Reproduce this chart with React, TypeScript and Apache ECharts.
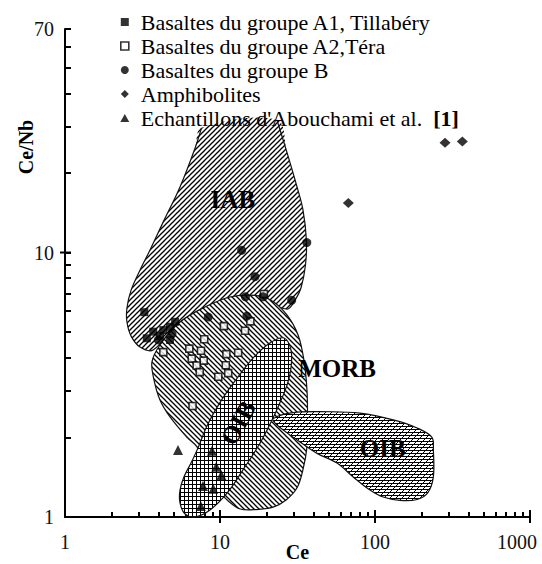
import React, { useEffect, useRef } from 'react';
import * as echarts from 'echarts';

const FONT = '"Liberation Serif", "Times New Roman", Times, serif';

// Legend / series names
const NAME_A1 = 'Basaltes du groupe A1, Tillabéry';
const NAME_A2 = 'Basaltes du groupe A2,Téra';
const NAME_B = 'Basaltes du groupe B';
const NAME_AMPH = 'Amphibolites';
const NAME_ABOU = "Echantillons d'Abouchami et al.";

// Data points [Ce, Ce/Nb]
const groupA1 = [
  [3.25, 5.95], [3.37, 4.74], [3.71, 5.02], [4.31, 5.09], [4.76, 5.24],
  [5.13, 5.47], [4.76, 4.67], [4.1, 4.84],
];
const groupA2 = [
  [4.31, 4.2], [6.34, 4.33], [7.54, 4.25], [6.57, 3.97], [7.85, 3.9],
  [7.07, 3.74], [7.4, 3.53], [7.91, 4.7], [10.6, 5.27], [11.0, 4.13],
  [13.1, 4.18], [10.9, 3.75], [11.3, 3.5], [9.75, 3.39], [6.65, 2.63],
  [14.5, 5.06], [15.7, 5.49], [19.2, 6.97],
];
const groupB = [
  [13.8, 10.2], [36.3, 10.9], [16.8, 8.1], [14.6, 6.8], [19.0, 6.8],
  [29.0, 6.6], [8.4, 5.7], [14.9, 5.75], [4.0, 4.67], [4.9, 4.92],
];
const amphibolites = [[283, 26.0], [366, 26.3], [67.3, 15.4]];
const abouchami = [
  [5.36, 1.79], [8.88, 1.78], [9.46, 1.55], [10.2, 1.44], [7.77, 1.31],
  [9.05, 1.28], [7.52, 1.1],
];

// Discrimination fields (outline vertices in data units)
const fieldIAB = [
  [23.3, 31.7], [27.1, 23.8], [31.4, 17.7], [34.3, 14.5], [36.1, 11.15],
  [35.6, 8.97], [33.3, 7.34], [30.5, 6.61], [27.1, 6.11], [18.1, 6.61],
  [10, 6.33], [5.52, 5.46], [3.7, 4.28], [3.05, 4.39], [2.67, 4.83],
  [2.51, 5.46], [2.51, 6.17], [2.67, 7.21], [3.05, 8.59], [3.53, 10.2],
  [4.29, 13.0], [5.52, 17.7], [6.9, 24.8], [7.6, 29.6],
];
const fieldMORB = [
  [3.64, 3.86], [4.1, 4.47], [5.52, 5.46], [7.77, 6.17], [11.6, 6.79],
  [16.8, 6.88], [21.7, 6.56], [27.1, 5.8], [31.9, 4.88], [34.8, 3.92],
  [36.4, 3.02], [36.7, 2.33], [36.4, 1.84], [34.3, 1.51], [31.4, 1.29],
  [26.7, 1.16], [22.0, 1.09], [17.1, 1.067], [13.5, 1.072], [11.3, 1.15],
  [9.71, 1.265], [8.0, 1.53], [7.11, 1.84], [6.13, 2.0], [4.76, 2.39],
  [4.1, 2.77], [3.75, 3.3],
];
const fieldOIBEllipse = [
  [25.9, 4.75], [28.7, 4.28], [28.7, 3.66], [27.1, 3.16], [24.0, 2.65],
  [21.7, 2.33], [18.1, 1.9], [14.1, 1.51], [11.1, 1.23], [8.62, 1.063],
  [6.9, 1.0], [5.95, 1.026], [5.52, 1.13], [5.52, 1.265], [5.86, 1.42],
  [6.5, 1.6], [7.11, 1.79], [8.37, 2.25], [10.15, 2.75], [12.9, 3.35],
  [16.6, 4.03], [21.0, 4.55],
];
const fieldOIB = [
  [22.0, 2.35], [29.6, 2.48], [49.0, 2.5], [80, 2.47], [131, 2.33],
  [187, 2.17], [233, 2.0], [238, 1.79], [238, 1.42], [220, 1.24],
  [187, 1.165], [145, 1.155], [113, 1.19], [92.8, 1.265], [72.1, 1.42],
  [56.9, 1.6], [42.3, 1.74], [34.3, 1.89], [27.1, 2.08], [23.3, 2.23],
];

// Field labels [Ce, Ce/Nb]
const labelIAB = [12.1, 15.8];
const labelMORB = [56.9, 3.63];
const labelOIB = [112, 1.81];
const labelOIBEllipse = [13.1, 2.27];

// Tick values
const xMinorTicks = [2, 3, 4, 5, 6, 7, 8, 9, 20, 30, 40, 50, 60, 70, 80, 90, 200, 300, 400, 500, 600, 700, 800, 900];
const xMajorTicks = [10, 100, 1000];
const yMinorTicks = [2, 3, 4, 5, 6, 7, 8, 9, 20, 30, 40, 50, 60, 70];
const yMajorTicks = [10];

// Legend icons (square box, centred inside the wider legend item box)
const ICON_RECT = 'path://M0,0L10,0L10,10L0,10Z';
const ICON_CIRCLE = 'circle';
const ICON_DIAMOND = 'path://M5,0L10,5L5,10L0,5Z';
const ICON_TRIANGLE = 'path://M5,0L10,9L0,9Z';

function makePattern(kind: string) {
  const s = kind === 'grid' ? 4 : kind === 'oib' ? 6 : 5;
  const c = document.createElement('canvas');
  c.width = s;
  c.height = s;
  const g = c.getContext('2d') as CanvasRenderingContext2D;
  g.fillStyle = '#ffffff';
  g.fillRect(0, 0, s, s);
  g.strokeStyle = '#000000';
  g.lineWidth = 1.25;
  const line = (x1: number, y1: number, x2: number, y2: number) => {
    g.beginPath();
    g.moveTo(x1, y1);
    g.lineTo(x2, y2);
    g.stroke();
  };
  const fwd = () => {
    line(-1, s + 1, s + 1, -1);
    line(-1, 1, 1, -1);
    line(s - 1, s + 1, s + 1, s - 1);
  };
  const back = () => {
    line(-1, -1, s + 1, s + 1);
    line(s - 1, -1, s + 1, 1);
    line(-1, s - 1, 1, s + 1);
  };
  if (kind === 'fwd') fwd();
  if (kind === 'back') back();
  if (kind === 'grid') {
    g.lineWidth = 1;
    line(0, 0.5, s, 0.5);
    line(0.5, 0, 0.5, s);
  }
  if (kind === 'oib') {
    g.lineWidth = 1;
    line(0, 0.5, s, 0.5);
    line(0, 3.5, s, 3.5);
    fwd();
  }
  return { image: c.toDataURL(), repeat: 'repeat', imageWidth: s, imageHeight: s };
}

function fieldSeries(
  pts: number[][],
  pattern: any,
  openTop: boolean,
  label: { text: string; pos: number[]; rot: number },
) {
  return {
    type: 'custom',
    coordinateSystem: 'cartesian2d',
    silent: true,
    data: [[1, 1]],
    renderItem: (_params: any, api: any) => {
      const p = pts.map((d) => api.coord(d));
      const lp = api.coord(label.pos);
      const children: any[] = [
        {
          type: 'polygon',
          shape: { points: p, smooth: 0.35 },
          style: { fill: pattern, stroke: openTop ? 'none' : '#111', lineWidth: 1.2 },
        },
      ];
      if (openTop) {
        children.push({
          type: 'polyline',
          shape: { points: p, smooth: 0.35 },
          style: { fill: 'none', stroke: '#111', lineWidth: 1.2 },
        });
      }
      children.push({
        type: 'text',
        x: lp[0],
        y: lp[1],
        rotation: label.rot,
        style: {
          text: label.text,
          font: `bold 25px ${FONT}`,
          fill: '#000',
          align: 'center',
          verticalAlign: 'middle',
        },
      });
      return { type: 'group', children };
    },
  };
}

// Major ticks cross the axis line; this draws their outer half
function majorTickSeries(values: number[], axis: 'x' | 'y') {
  return {
    type: 'custom',
    coordinateSystem: 'cartesian2d',
    silent: true,
    clip: false,
    z: 10,
    data: values.map((v) => (axis === 'x' ? [v, 1] : [1, v])),
    renderItem: (_params: any, api: any) => {
      const p = api.coord([api.value(0), api.value(1)]);
      const shape =
        axis === 'x'
          ? { x1: p[0], y1: p[1] + 6, x2: p[0], y2: p[1] - 7 }
          : { x1: p[0] - 5, y1: p[1], x2: p[0] + 6, y2: p[1] };
      return { type: 'line', shape, style: { stroke: '#000', lineWidth: 2 } };
    },
  };
}

export default function App() {
  const ref = useRef<HTMLDivElement>(null);

  useEffect(() => {
    if (!ref.current) return;
    const chart = echarts.init(ref.current, undefined, { renderer: 'svg' });

    const option: any = {
      animation: false,
      backgroundColor: '#fff',
      grid: { left: 65, right: 12, top: 29, bottom: 47, containLabel: false, outerBoundsMode: 'none' },
      legend: {
        orient: 'vertical',
        left: 115,
        top: 6,
        itemWidth: 22,
        itemHeight: 8,
        itemGap: 2,
        selectedMode: false,
        symbolKeepAspect: true,
        textStyle: {
          fontFamily: FONT,
          fontSize: 22,
          color: '#000',
          rich: {
            b: { fontFamily: FONT, fontSize: 22, fontWeight: 'bold', color: '#000' },
          },
        },
        formatter: (name: string) => (name === NAME_ABOU ? `${name}  {b|[1]}` : name),
        data: [
          { name: NAME_A1, icon: ICON_RECT, itemStyle: { color: '#000' } },
          { name: NAME_A2, icon: ICON_RECT, itemStyle: { color: '#fff', borderColor: '#000', borderWidth: 1.6 } },
          { name: NAME_B, icon: ICON_CIRCLE, itemStyle: { color: '#000' } },
          { name: NAME_AMPH, icon: ICON_DIAMOND, itemStyle: { color: '#000' } },
          { name: NAME_ABOU, icon: ICON_TRIANGLE, itemStyle: { color: '#000' } },
        ],
      },
      graphic: [
        {
          type: 'text',
          x: 26,
          y: 147,
          rotation: Math.PI / 2,
          style: {
            text: 'Ce/Nb',
            font: `bold 20px ${FONT}`,
            fill: '#000',
            align: 'center',
            verticalAlign: 'middle',
          },
        },
      ],
      xAxis: {
        type: 'log',
        logBase: 10,
        min: 1,
        max: 1000,
        name: 'Ce',
        nameLocation: 'middle',
        nameGap: 35,
        nameMoveOverlap: false,
        nameTextStyle: { fontFamily: FONT, fontWeight: 'bold', fontSize: 20, color: '#000', verticalAlign: 'middle' },
        axisLine: { lineStyle: { color: '#000', width: 2 } },
        axisTick: {
          show: true,
          inside: true,
          length: 5,
          customValues: xMinorTicks.concat(xMajorTicks),
          lineStyle: { color: '#000', width: 2 },
        },
        minorTick: { show: false },
        splitLine: { show: false },
        axisLabel: {
          fontFamily: FONT,
          fontSize: 20,
          color: '#111',
          margin: 15,
          formatter: (v: number) => {
            const r = Math.round(v);
            return r === 1000 ? '{r|1000}' : String(r);
          },
          rich: {
            r: { fontFamily: FONT, fontSize: 20, color: '#111', padding: [0, 26, 0, 0] },
          },
        },
      },
      yAxis: {
        type: 'log',
        logBase: 10,
        min: 1,
        max: 70,
        axisLine: { lineStyle: { color: '#000', width: 2 } },
        axisTick: {
          show: true,
          inside: true,
          length: 6,
          customValues: yMinorTicks.concat(yMajorTicks),
          lineStyle: { color: '#000', width: 2 },
        },
        minorTick: { show: false },
        splitLine: { show: false },
        axisLabel: {
          fontFamily: FONT,
          fontSize: 20,
          color: '#111',
          margin: 11,
          formatter: (v: number) => String(Math.round(v)),
        },
      },
      series: [
        fieldSeries(fieldIAB, makePattern('fwd'), true, { text: 'IAB', pos: labelIAB, rot: 0 }),
        fieldSeries(fieldMORB, makePattern('back'), false, { text: 'MORB', pos: labelMORB, rot: 0 }),
        fieldSeries(fieldOIBEllipse, makePattern('grid'), false, {
          text: 'OIB',
          pos: labelOIBEllipse,
          rot: (61 * Math.PI) / 180,
        }),
        fieldSeries(fieldOIB, makePattern('oib'), false, { text: 'OIB', pos: labelOIB, rot: 0 }),
        majorTickSeries(xMajorTicks, 'x'),
        majorTickSeries(yMajorTicks, 'y'),
        {
          name: NAME_A1,
          type: 'scatter',
          symbol: 'rect',
          symbolSize: 8,
          itemStyle: { color: '#000' },
          data: groupA1,
        },
        {
          name: NAME_A2,
          type: 'scatter',
          symbol: 'rect',
          symbolSize: 7,
          itemStyle: { color: '#fff', borderColor: '#000', borderWidth: 1.6 },
          data: groupA2,
        },
        {
          name: NAME_B,
          type: 'scatter',
          symbol: 'circle',
          symbolSize: 9,
          itemStyle: { color: '#000' },
          data: groupB,
        },
        {
          name: NAME_AMPH,
          type: 'scatter',
          symbol: 'diamond',
          symbolSize: [11, 10],
          itemStyle: { color: '#000' },
          data: amphibolites,
        },
        {
          name: NAME_ABOU,
          type: 'scatter',
          symbol: 'triangle',
          symbolSize: 10,
          itemStyle: { color: '#000' },
          data: abouchami,
        },
      ],
    };

    chart.setOption(option);
    return () => chart.dispose();
  }, []);

  return <div ref={ref} style={{ width: 542, height: 564, position: 'absolute', left: 0, top: 0 }} />;
}
